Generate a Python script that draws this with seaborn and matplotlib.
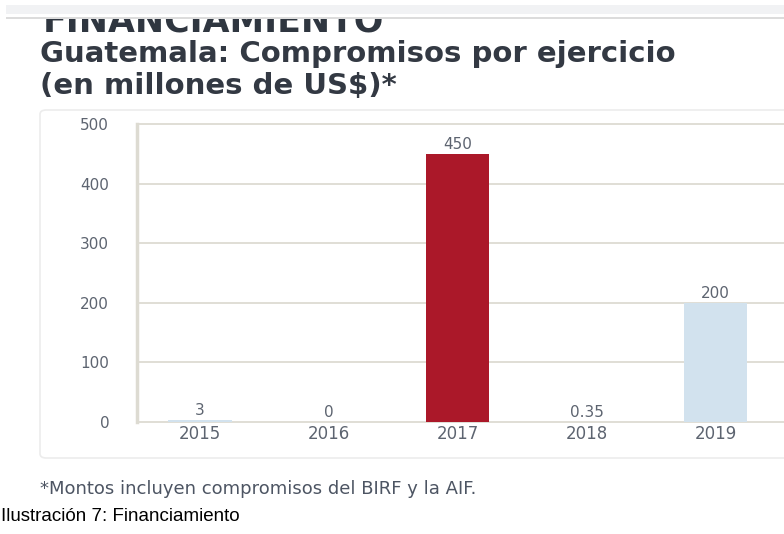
import matplotlib
matplotlib.use("Agg")
import matplotlib.pyplot as plt
import seaborn as sns
import pandas as pd
from matplotlib.patches import Rectangle, FancyBboxPatch

# --- dados ---
years = ["2015", "2016", "2017", "2018", "2019"]
values = [3, 0, 450, 0.35, 200]
value_labels = ["3", "0", "450", "0.35", "200"]
bar_colors = ["#d2e2ee", "#d2e2ee", "#ab1829", "#d2e2ee", "#d2e2ee"]
y_ticks = [0, 100, 200, 300, 400, 500]

W, H = 784, 534

def fx(x):
    return x / W

def fy(y):
    return 1 - y / H

sns.set_style("white")
plt.rcParams["font.family"] = ["DejaVu Sans"]

fig = plt.figure(figsize=(W / 100, H / 100), dpi=100)
fig.patch.set_facecolor("white")

# cartão do gráfico
card = FancyBboxPatch((fx(40), fy(458)), fx(800) - fx(40), fy(110) - fy(458),
                      boxstyle="round,pad=0,rounding_size=0.008",
                      transform=fig.transFigure, facecolor="white",
                      edgecolor="#ececec", linewidth=1.2, zorder=0)
fig.add_artist(card)

# cabeçalho (cortado pela faixa superior)
fig.text(fx(43), fy(32), "FINANCIAMIENTO", fontsize=25, fontweight="bold",
         color="#2f3640", va="baseline", ha="left", zorder=1)
fig.add_artist(Rectangle((0, fy(19)), 1, fy(0) - fy(19), transform=fig.transFigure,
                         facecolor="white", edgecolor="none", zorder=5))
fig.add_artist(Rectangle((fx(6), fy(14)), 1, fy(5) - fy(14), transform=fig.transFigure,
                         facecolor="#f1f2f4", edgecolor="none", zorder=6))
fig.add_artist(Rectangle((fx(6), fy(19)), 1, fy(17) - fy(19), transform=fig.transFigure,
                         facecolor="#dcdcdc", edgecolor="none", zorder=6))

fig.text(fx(40), fy(62), "Guatemala: Compromisos por ejercicio", fontsize=21,
         fontweight="bold", color="#333943", va="baseline", ha="left")
fig.text(fx(40), fy(94), "(en millones de US$)*", fontsize=21,
         fontweight="bold", color="#333943", va="baseline", ha="left")

# eixo
ax = fig.add_axes([fx(137), fy(422), fx(784) - fx(137), fy(124) - fy(422)])
ax.set_zorder(2)
ax.patch.set_alpha(0)

df = pd.DataFrame({"year": years, "value": values})
sns.barplot(data=df, x="year", y="value", hue="year", palette=bar_colors,
            saturation=1, width=0.49, legend=False, ax=ax, zorder=3, linewidth=0)

ax.set_xlim(-0.488, 4.53)
ax.set_ylim(0, 500)
ax.set_yticks(y_ticks)
ax.set_xlabel("")
ax.set_ylabel("")

ax.grid(axis="y", color="#dddbd2", linewidth=1.3, zorder=0)
ax.set_axisbelow(True)
for line in ax.get_ygridlines():
    line.set_clip_on(False)
for side in ["top", "right", "bottom"]:
    ax.spines[side].set_visible(False)
ax.spines["left"].set_color("#dddbd2")
ax.spines["left"].set_linewidth(2.5)

ax.tick_params(axis="y", length=0, pad=20, labelsize=11, labelcolor="#5d6470")
ax.tick_params(axis="x", length=0, pad=2, labelsize=12, labelcolor="#5d6470")

# rótulos de valor
for patch, lab in zip(ax.patches, value_labels):
    cx = patch.get_x() + patch.get_width() / 2
    ax.annotate(lab, (cx, patch.get_height()), xytext=(0, 1.5),
                textcoords="offset points", ha="center", va="bottom",
                fontsize=11, color="#5d6470", zorder=4)

# notas de rodapé
fig.text(fx(40), fy(494), "*Montos incluyen compromisos del BIRF y la AIF.",
         fontsize=13, color="#4d5563", va="baseline", ha="left")
fig.text(fx(1), fy(521), "Ilustración 7: Financiamiento", fontsize=13.5,
         color="black", va="baseline", ha="left",
         family=["Liberation Sans Narrow", "Liberation Sans", "DejaVu Sans"])

fig.savefig("out.png", dpi=100, facecolor="white")
